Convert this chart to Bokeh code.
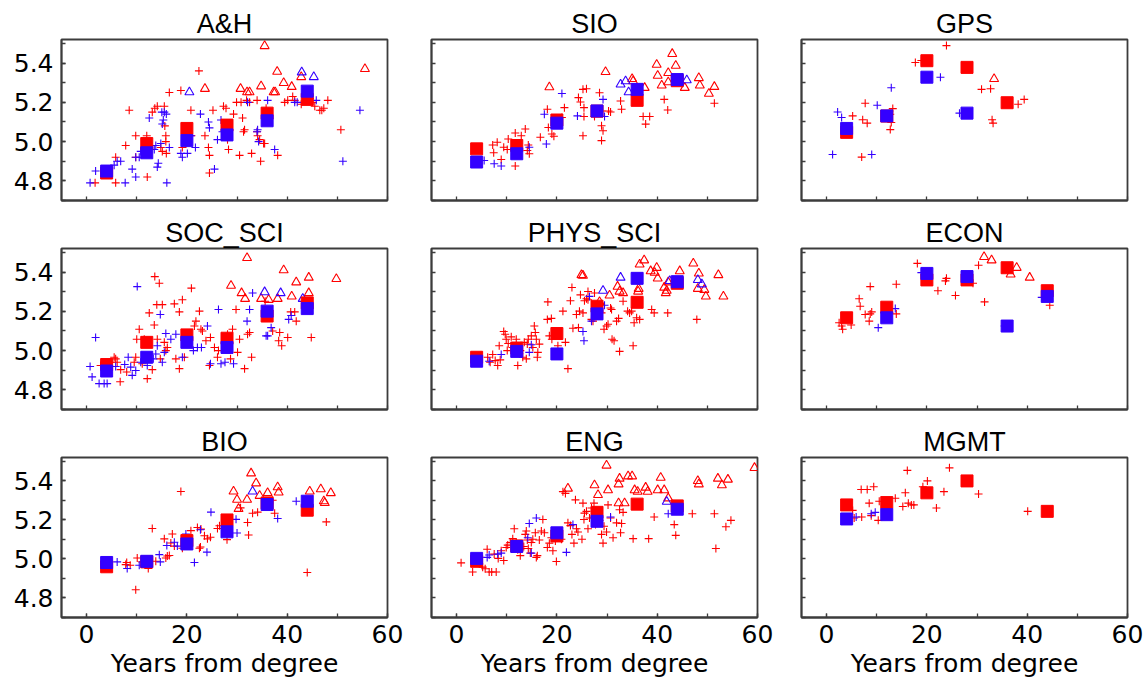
from bokeh.plotting import figure
from bokeh.layouts import gridplot
from bokeh.models import Range1d, FixedTicker, NumeralTickFormatter
from bokeh.embed import file_html
from bokeh.resources import INLINE

RED = "#ff0000"
BLUE = "#3300ff"
TITLE_FONT = "Liberation Sans"
FONT = "DejaVu Sans"

x_ticks = [0, 20, 40, 60]
x_minor = [0, 10, 20, 30, 40, 50, 60]
y_ticks = [4.8, 5.0, 5.2, 5.4]
y_minor = [4.7, 4.8, 4.9, 5.0, 5.1, 5.2, 5.3, 5.4, 5.5]
bin_x = [4, 12, 20, 28, 36, 44]

# ---------------- A&H ----------------
ah_red_plus_x = [1.7, 5.8, 5.8, 7.8, 8.5, 9.8, 9.8, 12.1, 12.0, 13.1, 13.6, 14.1, 14.8, 15.1, 15.5, 15.6, 15.8, 15.8, 15.9, 16.5, 18.8, 19.1, 20.8, 20.9, 22.4, 23.6, 24.3, 24.5, 24.5, 25.2, 27.3, 27.8, 28.1, 28.3, 29.3, 29.9, 30.5, 30.8, 31.1, 31.3, 31.5, 31.9, 32.5, 32.9, 34.0, 34.0, 34.1, 34.5, 34.7, 35.3, 35.5, 35.8, 38.1, 39.5, 40.1, 41.1, 41.5, 42.8, 44.5, 45.1, 45.5, 46.5, 46.9, 47.3, 48.1, 50.7, 19.8]
ah_red_plus_y = [4.79, 4.79, 4.92, 4.98, 5.16, 5.03, 4.92, 4.82, 5.03, 5.15, 5.17, 5.18, 4.97, 4.95, 5.18, 5.08, 5.03, 5.00, 4.94, 5.25, 5.26, 4.97, 5.16, 5.03, 5.36, 5.03, 4.97, 4.93, 4.84, 5.16, 5.18, 5.17, 5.01, 4.96, 5.14, 5.20, 4.93, 5.20, 5.12, 5.05, 5.06, 5.21, 5.20, 4.94, 5.21, 5.05, 5.03, 5.01, 4.90, 4.99, 4.99, 5.17, 4.93, 5.20, 5.21, 5.23, 5.21, 5.19, 5.22, 5.20, 5.18, 5.16, 5.16, 5.17, 5.21, 5.06, 4.99]
ah_blue_plus_x = [0.7, 1.8, 5.5, 6.1, 6.8, 7.7, 9.1, 9.8, 9.8, 10.5, 10.8, 12.5, 13.5, 13.8, 14.1, 14.3, 14.8, 15.0, 15.1, 15.3, 15.5, 15.9, 16.0, 16.5, 18.8, 19.1, 20.1, 20.8, 21.7, 22.7, 24.3, 24.5, 25.5, 26.1, 26.8, 27.1, 32.1, 34.0, 34.3, 34.1, 36.1, 37.5, 41.5, 42.0, 45.8, 51.1, 54.5]
ah_blue_plus_y = [4.79, 4.85, 4.88, 4.90, 4.90, 4.79, 4.86, 4.92, 4.82, 4.92, 4.95, 5.12, 4.96, 4.98, 4.87, 4.89, 4.99, 5.15, 5.09, 5.11, 5.15, 5.14, 4.79, 4.97, 4.94, 4.92, 4.94, 5.03, 4.97, 5.14, 5.10, 5.07, 4.86, 5.01, 5.11, 5.05, 5.20, 5.05, 5.00, 5.06, 5.21, 4.96, 5.20, 5.20, 5.21, 4.90, 5.16]
ah_red_tri_x = [35.5, 38.0, 23.6, 30.7, 32.0, 32.5, 34.8, 37.3, 37.6, 39.3, 40.9, 42.8, 55.5]
ah_red_tri_y = [5.487, 5.356, 5.269, 5.269, 5.252, 5.252, 5.282, 5.252, 5.252, 5.299, 5.279, 5.329, 5.370]
ah_blue_tri_x = [20.5, 42.9, 45.3]
ah_blue_tri_y = [5.252, 5.353, 5.329]
ah_red_mean = [4.84, 4.99, 5.067, 5.084, 5.145, 5.215]
ah_blue_mean = [4.85, 4.943, 5.005, 5.034, 5.106, 5.257]

# ---------------- SIO ----------------
sio_red_plus_x = [7.2, 7.4, 8.1, 8.9, 9.4, 10.1, 10.3, 11.7, 11.7, 12.9, 13.7, 14.3, 14.5, 14.1, 16.7, 18.1, 18.3, 19.0, 19.4, 21.5, 21.0, 24.3, 24.7, 25.2, 25.4, 25.4, 25.2, 25.9, 28.5, 27.5, 28.9, 28.9, 29.2, 28.9, 30.3, 30.7, 32.7, 32.9, 37.2, 38.5, 37.7, 41.4, 42.1, 51.4]
sio_red_plus_y = [4.983, 4.943, 4.997, 4.909, 4.971, 4.960, 5.013, 5.044, 4.876, 5.030, 5.064, 4.983, 4.938, 4.955, 5.022, 5.165, 5.072, 5.039, 5.027, 5.173, 5.123, 5.224, 5.202, 5.266, 5.173, 5.128, 5.030, 5.269, 5.249, 5.128, 5.156, 5.081, 5.055, 5.005, 5.156, 5.151, 5.207, 5.165, 5.128, 5.128, 5.089, 5.215, 5.161, 5.195]
sio_blue_plus_x = [5.5, 7.5, 8.9, 17.5, 17.9, 21.0, 24.1, 29.2, 29.5, 14.5]
sio_blue_plus_y = [4.904, 4.887, 4.876, 5.139, 4.988, 5.245, 5.131, 5.215, 5.128, 4.971]
sio_red_tri_x = [18.5, 29.7, 35.0, 35.2, 37.5, 39.9, 40.1, 40.9, 42.2, 43.0, 43.7, 42.2, 45.5, 48.3, 48.5, 50.3, 51.4]
sio_red_tri_y = [5.277, 5.355, 5.319, 5.308, 5.274, 5.392, 5.336, 5.286, 5.350, 5.447, 5.387, 5.303, 5.274, 5.324, 5.286, 5.244, 5.279]
sio_blue_tri_x = [32.7, 33.7, 34.3, 45.9]
sio_blue_tri_y = [5.291, 5.308, 5.252, 5.313]
sio_red_mean = [4.963, 4.98, 5.11, 5.155, 5.21, 5.31]
sio_blue_mean = [4.896, 4.938, 5.094, 5.156, 5.266, 5.316]

# ---------------- GPS ----------------
gps_red_plus_x = [5.2, 7.2, 7.7, 8.1, 7.0, 12.7, 12.9, 12.7, 13.2, 17.7, 18.9, 23.9, 30.9, 32.7, 33.0, 33.2, 38.2, 39.4]
gps_red_plus_y = [5.131, 5.111, 5.195, 5.094, 4.921, 5.139, 5.097, 5.061, 5.168, 5.403, 5.413, 5.489, 5.266, 5.269, 5.111, 5.094, 5.190, 5.215]
gps_blue_plus_x = [1.2, 2.2, 3.0, 9.0, 10.1, 12.9, 22.7, 26.5]
gps_blue_plus_y = [4.934, 5.151, 5.123, 4.934, 5.185, 5.274, 5.328, 5.145]
gps_red_tri_x = [33.4]
gps_red_tri_y = [5.319]
gps_blue_tri_x = []
gps_blue_tri_y = []
gps_red_mean_x = [4, 12, 20, 28, 36]
gps_red_mean = [5.047, 5.13, 5.412, 5.378, 5.198]
gps_blue_mean_x = [4, 12, 20, 28]
gps_blue_mean = [5.067, 5.131, 5.328, 5.145]

# ---------------- SOC_SCI ----------------
soc_red_plus_x = [2.8, 4.8, 5.5, 5.8, 6.1, 6.7, 6.8, 8.0, 9.5, 9.8, 10.0, 10.5, 11.1, 11.5, 12.1, 12.5, 13.1, 13.5, 13.6, 14.5, 14.0, 14.1, 14.7, 15.1, 15.5, 15.8, 16.1, 17.5, 17.8, 18.5, 19.1, 18.5, 19.5, 20.1, 20.9, 21.5, 21.8, 22.5, 22.8, 23.1, 23.8, 24.5, 24.7, 25.5, 26.1, 26.3, 28.1, 28.7, 29.1, 29.8, 30.1, 30.5, 31.5, 32.1, 32.5, 32.9, 35.6, 37.1, 38.3, 38.5, 38.9, 40.1, 40.7, 41.5, 41.8, 44.8]
soc_red_plus_y = [4.924, 4.941, 4.966, 4.958, 4.941, 4.841, 4.903, 4.891, 4.941, 4.966, 5.058, 5.109, 4.933, 5.058, 4.857, 5.192, 4.903, 5.130, 5.377, 5.343, 5.234, 5.058, 4.958, 5.234, 5.042, 5.000, 5.016, 5.238, 4.958, 5.197, 5.259, 4.908, 4.966, 5.042, 5.318, 5.125, 5.150, 5.201, 5.109, 5.100, 5.050, 4.924, 5.067, 5.016, 4.966, 5.000, 5.083, 4.958, 5.109, 5.209, 4.991, 5.058, 4.908, 5.083, 5.092, 4.966, 5.251, 5.100, 5.050, 5.092, 5.025, 5.067, 5.197, 5.197, 5.150, 5.067]
soc_blue_plus_x = [0.7, 1.1, 1.8, 2.5, 3.5, 4.1, 5.8, 7.6, 8.3, 8.8, 9.1, 9.8, 10.1, 10.8, 12.1, 13.3, 13.8, 14.1, 14.7, 15.1, 15.5, 15.8, 16.8, 17.8, 19.1, 20.1, 21.3, 22.1, 22.9, 24.1, 24.7, 26.3, 26.8, 27.6, 29.3, 32.0, 32.5, 33.1, 35.8, 36.1, 36.8, 40.3, 40.8]
soc_blue_plus_y = [4.919, 4.866, 5.067, 4.832, 4.832, 4.832, 4.919, 4.929, 4.966, 4.916, 4.874, 4.899, 5.326, 4.941, 4.924, 4.958, 4.983, 5.025, 5.184, 4.941, 4.991, 5.087, 5.058, 5.083, 4.966, 5.067, 5.000, 5.016, 5.016, 5.125, 4.933, 5.209, 4.933, 4.941, 4.933, 5.150, 5.209, 5.293, 5.075, 5.075, 5.117, 5.159, 5.179]
soc_red_tri_x = [32.0, 28.8, 30.9, 31.6, 34.8, 36.3, 38.1, 39.3, 40.9, 41.8, 44.3, 44.3, 49.8]
soc_red_tri_y = [5.472, 5.331, 5.293, 5.264, 5.264, 5.259, 5.264, 5.410, 5.276, 5.348, 5.372, 5.293, 5.365]
soc_blue_tri_x = [35.5, 38.7, 43.1]
soc_blue_tri_y = [5.298, 5.293, 5.264]
soc_red_mean = [4.929, 5.042, 5.080, 5.063, 5.176, 5.243]
soc_blue_mean = [4.896, 4.966, 5.042, 5.016, 5.201, 5.214]

# ---------------- PHYS_SCI ----------------
phys_red_plus_x = [6.2, 6.7, 7.2, 7.7, 8.2, 8.5, 8.7, 9.4, 9.7, 9.9, 10.1, 10.3, 10.9, 11.2, 11.5, 11.9, 12.2, 12.7, 13.2, 13.5, 13.9, 14.1, 14.3, 14.9, 15.2, 15.5, 15.7, 15.9, 16.1, 16.2, 16.5, 18.2, 18.1, 18.5, 18.9, 19.0, 20.2, 21.2, 21.7, 22.2, 22.7, 23.0, 23.2, 23.9, 24.3, 24.5, 24.7, 25.2, 25.5, 25.9, 26.2, 26.9, 27.2, 27.5, 27.9, 29.4, 29.9, 30.7, 30.9, 31.0, 31.4, 31.9, 32.3, 32.5, 33.2, 34.1, 34.5, 34.9, 35.2, 35.4, 35.9, 36.5, 38.9, 39.4, 42.1, 47.9, 26.2, 28.9, 30.2]
phys_red_plus_y = [4.966, 4.941, 4.980, 4.949, 4.924, 5.025, 4.953, 5.097, 5.083, 5.058, 5.000, 5.036, 5.070, 5.016, 5.008, 5.058, 4.924, 5.000, 4.966, 5.042, 4.958, 5.033, 5.058, 5.075, 5.016, 5.125, 5.092, 5.058, 4.966, 4.991, 5.033, 5.248, 5.159, 5.075, 5.164, 5.058, 5.025, 5.201, 5.042, 4.908, 5.254, 5.321, 5.114, 5.184, 5.117, 5.201, 5.284, 5.192, 5.254, 5.264, 5.259, 5.159, 5.150, 5.293, 5.217, 5.109, 5.125, 5.217, 5.209, 5.058, 5.050, 5.150, 5.164, 4.996, 5.251, 5.201, 5.192, 5.201, 5.025, 5.142, 5.167, 5.159, 5.209, 5.192, 5.192, 5.159, 5.301, 5.192, 5.134]
phys_blue_plus_x = [6.5, 8.9, 14.9, 14.5, 25.2, 25.4, 26.5, 26.9, 29.5]
phys_blue_plus_y = [4.946, 4.980, 5.030, 4.991, 5.097, 5.050, 5.276, 5.150, 5.231]
phys_red_tri_x = [24.9, 25.2, 28.5, 30.5, 32.1, 32.5, 33.2, 36.2, 36.3, 36.5, 37.4, 38.7, 39.5, 39.9, 40.1, 41.4, 41.7, 42.2, 44.5, 47.2, 48.3, 48.1, 49.4, 49.7, 52.2, 53.2, 41.9]
phys_red_tri_y = [5.385, 5.382, 5.248, 5.281, 5.326, 5.301, 5.293, 5.301, 5.315, 5.439, 5.460, 5.405, 5.397, 5.422, 5.368, 5.321, 5.293, 5.348, 5.405, 5.444, 5.393, 5.315, 5.310, 5.276, 5.385, 5.276, 5.305]
phys_blue_tri_x = [29.2, 32.7, 42.5, 48.1, 48.9]
phys_blue_tri_y = [5.305, 5.372, 5.355, 5.360, 5.338]
phys_red_mean = [4.966, 5.013, 5.087, 5.226, 5.246, 5.343]
phys_blue_mean = [4.946, 4.996, 4.983, 5.187, 5.368, 5.351]

# ---------------- ECON ----------------
econ_red_plus_x = [2.5, 3.0, 3.2, 4.9, 6.5, 6.7, 7.7, 8.5, 8.7, 9.0, 8.7, 13.9, 13.9, 18.1, 22.2, 23.7, 23.9, 25.7, 29.2, 30.3, 31.5, 44.5]
econ_red_plus_y = [5.142, 5.125, 5.109, 5.130, 5.264, 5.226, 5.184, 5.150, 5.326, 5.197, 5.187, 5.187, 5.338, 5.444, 5.305, 5.355, 5.368, 5.281, 5.343, 5.435, 5.248, 5.231]
econ_blue_plus_x = [10.3, 13.7, 18.9, 42.9, 35.5]
econ_blue_plus_y = [5.117, 5.214, 5.397, 5.271, 5.125]
econ_red_tri_x = [31.4, 32.9, 36.7, 37.9, 40.5]
econ_red_tri_y = [5.477, 5.460, 5.388, 5.422, 5.372]
econ_blue_tri_x = []
econ_blue_tri_y = []
econ_red_mean = [5.167, 5.221, 5.360, 5.360, 5.422, 5.305]
econ_blue_mean_x = [12, 20, 28, 36, 44]
econ_blue_mean = [5.167, 5.393, 5.377, 5.125, 5.276]

# ---------------- BIO ----------------
bio_red_plus_x = [7.8, 8.0, 8.7, 9.8, 10.1, 11.1, 12.3, 13.1, 13.8, 15.5, 15.8, 16.1, 16.5, 16.8, 17.1, 17.5, 18.8, 19.1, 20.8, 22.1, 22.5, 22.7, 22.8, 23.5, 24.1, 24.7, 26.1, 26.5, 28.0, 30.7, 32.3, 33.1, 34.1, 36.1, 37.1, 37.5, 44.0, 47.8, 32.1]
bio_red_plus_y = [4.971, 4.982, 4.968, 4.842, 5.005, 4.985, 4.951, 5.156, 4.988, 5.103, 5.005, 5.015, 5.018, 5.082, 5.128, 5.066, 5.346, 5.055, 5.145, 5.161, 5.055, 5.061, 5.153, 5.119, 5.103, 5.111, 5.156, 5.170, 5.099, 5.262, 5.123, 5.234, 5.240, 5.291, 5.301, 5.234, 4.931, 5.190, 5.187]
bio_blue_plus_x = [6.1, 8.1, 10.5, 14.5, 14.7, 16.0, 17.5, 18.1, 19.8, 21.5, 22.7, 24.0, 24.8, 29.8, 30.0, 38.1, 41.8]
bio_blue_plus_y = [4.985, 4.951, 4.968, 5.022, 4.985, 5.069, 5.086, 5.066, 5.128, 4.982, 5.150, 5.035, 5.240, 5.203, 5.133, 5.207, 5.296]
bio_red_tri_x = [29.3, 30.0, 30.3, 32.0, 32.8, 33.8, 34.5, 36.1, 38.1, 38.3, 44.5, 46.7, 47.3, 47.5, 48.7]
bio_red_tri_y = [5.346, 5.304, 5.257, 5.304, 5.439, 5.388, 5.324, 5.338, 5.368, 5.341, 5.346, 5.358, 5.296, 5.287, 5.338]
bio_blue_tri_x = [33.1]
bio_blue_tri_y = [5.346]
bio_red_mean = [4.960, 4.985, 5.094, 5.200, 5.287, 5.250]
bio_blue_mean = [4.982, 4.988, 5.077, 5.139, 5.279, 5.296]

# ---------------- ENG ----------------
eng_red_plus_x = [0.9, 3.2, 4.5, 5.2, 5.7, 6.1, 6.5, 7.0, 7.9, 7.5, 8.3, 8.9, 9.4, 9.9, 10.2, 10.7, 11.2, 11.5, 11.9, 12.2, 12.7, 12.9, 13.4, 13.7, 13.9, 14.1, 14.3, 14.7, 14.9, 15.2, 15.7, 15.9, 16.1, 16.5, 16.9, 17.2, 17.5, 18.1, 18.5, 18.9, 19.2, 19.7, 19.9, 20.2, 20.9, 21.2, 21.7, 22.2, 22.7, 23.0, 23.4, 23.7, 23.9, 24.2, 25.0, 25.2, 25.4, 25.5, 25.9, 26.2, 26.5, 26.9, 27.4, 27.7, 27.9, 28.5, 29.2, 29.4, 29.9, 30.2, 30.7, 31.2, 31.9, 32.5, 32.7, 32.9, 33.2, 35.2, 38.3, 39.4, 43.4, 43.7, 47.0, 51.4, 51.7, 53.7, 54.7, 28.9]
eng_red_plus_y = [4.980, 4.933, 5.008, 4.958, 4.950, 5.050, 4.933, 4.933, 4.933, 5.025, 5.003, 5.042, 4.992, 5.059, 5.071, 5.084, 5.104, 5.155, 5.084, 5.047, 5.017, 5.054, 5.064, 5.126, 5.143, 5.097, 5.054, 5.030, 5.084, 5.101, 5.134, 5.008, 5.017, 5.097, 5.143, 5.202, 5.134, 5.059, 5.081, 5.109, 5.042, 5.092, 4.987, 5.109, 5.101, 5.345, 5.336, 5.185, 5.171, 5.126, 5.081, 5.303, 5.155, 5.138, 5.101, 5.286, 5.202, 5.235, 5.244, 5.155, 5.210, 5.261, 5.286, 5.176, 5.218, 5.198, 5.081, 5.168, 5.138, 5.277, 5.210, 5.109, 5.185, 5.252, 5.134, 5.182, 5.239, 5.104, 5.104, 5.215, 5.176, 5.121, 5.232, 5.232, 5.054, 5.165, 5.198, 5.126]
eng_blue_plus_x = [6.1, 6.5, 8.2, 8.9, 14.2, 14.5, 14.9, 15.9, 21.9, 23.2, 30.7, 42.2]
eng_blue_plus_y = [5.008, 5.020, 5.025, 5.030, 5.109, 5.182, 5.030, 5.210, 5.034, 5.176, 5.215, 5.232]
eng_red_tri_x = [22.2, 27.5, 28.2, 29.9, 30.2, 32.3, 32.5, 32.3, 33.5, 34.2, 35.0, 35.5, 36.1, 37.7, 38.1, 40.1, 40.7, 41.4, 42.2, 48.1, 48.3, 52.1, 52.9, 54.1, 59.4]
eng_red_tri_y = [5.361, 5.378, 5.328, 5.479, 5.353, 5.383, 5.412, 5.286, 5.286, 5.424, 5.424, 5.353, 5.345, 5.366, 5.345, 5.353, 5.417, 5.353, 5.311, 5.400, 5.383, 5.412, 5.378, 5.407, 5.467]
eng_blue_tri_x = [41.9]
eng_blue_tri_y = [5.294]
eng_red_mean = [4.988, 5.067, 5.118, 5.239, 5.281, 5.272]
eng_blue_mean_x = [4, 12, 20, 28, 44]
eng_blue_mean = [5.003, 5.064, 5.134, 5.193, 5.255]

# ---------------- MGMT ----------------
mgmt_red_plus_x = [5.2, 5.5, 6.9, 7.0, 8.1, 8.5, 8.9, 9.4, 10.3, 10.5, 13.7, 15.2, 15.7, 16.1, 16.3, 16.9, 17.4, 19.2, 20.1, 21.9, 23.4, 24.5, 30.3, 40.1]
mgmt_red_plus_y = [5.249, 5.210, 5.356, 5.215, 5.356, 5.286, 5.222, 5.370, 5.198, 5.296, 5.311, 5.269, 5.339, 5.454, 5.286, 5.277, 5.277, 5.370, 5.400, 5.261, 5.345, 5.467, 5.333, 5.244]
mgmt_blue_plus_x = [5.9, 8.9, 9.7]
mgmt_blue_plus_y = [5.215, 5.232, 5.239]
mgmt_red_tri_x = []
mgmt_red_tri_y = []
mgmt_blue_tri_x = []
mgmt_blue_tri_y = []
mgmt_red_mean_x = [4, 12, 20, 28, 44]
mgmt_red_mean = [5.277, 5.289, 5.339, 5.400, 5.244]
mgmt_blue_mean_x = [4, 12]
mgmt_blue_mean = [5.205, 5.227]

panels = [
    ("A&H", ah_red_plus_x, ah_red_plus_y, ah_blue_plus_x, ah_blue_plus_y, ah_red_tri_x, ah_red_tri_y,
     ah_blue_tri_x, ah_blue_tri_y, bin_x, ah_red_mean, bin_x, ah_blue_mean),
    ("SIO", sio_red_plus_x, sio_red_plus_y, sio_blue_plus_x, sio_blue_plus_y, sio_red_tri_x, sio_red_tri_y,
     sio_blue_tri_x, sio_blue_tri_y, bin_x, sio_red_mean, bin_x, sio_blue_mean),
    ("GPS", gps_red_plus_x, gps_red_plus_y, gps_blue_plus_x, gps_blue_plus_y, gps_red_tri_x, gps_red_tri_y,
     gps_blue_tri_x, gps_blue_tri_y, gps_red_mean_x, gps_red_mean, gps_blue_mean_x, gps_blue_mean),
    ("SOC_SCI", soc_red_plus_x, soc_red_plus_y, soc_blue_plus_x, soc_blue_plus_y, soc_red_tri_x, soc_red_tri_y,
     soc_blue_tri_x, soc_blue_tri_y, bin_x, soc_red_mean, bin_x, soc_blue_mean),
    ("PHYS_SCI", phys_red_plus_x, phys_red_plus_y, phys_blue_plus_x, phys_blue_plus_y, phys_red_tri_x, phys_red_tri_y,
     phys_blue_tri_x, phys_blue_tri_y, bin_x, phys_red_mean, bin_x, phys_blue_mean),
    ("ECON", econ_red_plus_x, econ_red_plus_y, econ_blue_plus_x, econ_blue_plus_y, econ_red_tri_x, econ_red_tri_y,
     econ_blue_tri_x, econ_blue_tri_y, bin_x, econ_red_mean, econ_blue_mean_x, econ_blue_mean),
    ("BIO", bio_red_plus_x, bio_red_plus_y, bio_blue_plus_x, bio_blue_plus_y, bio_red_tri_x, bio_red_tri_y,
     bio_blue_tri_x, bio_blue_tri_y, bin_x, bio_red_mean, bin_x, bio_blue_mean),
    ("ENG", eng_red_plus_x, eng_red_plus_y, eng_blue_plus_x, eng_blue_plus_y, eng_red_tri_x, eng_red_tri_y,
     eng_blue_tri_x, eng_blue_tri_y, bin_x, eng_red_mean, eng_blue_mean_x, eng_blue_mean),
    ("MGMT", mgmt_red_plus_x, mgmt_red_plus_y, mgmt_blue_plus_x, mgmt_blue_plus_y, mgmt_red_tri_x, mgmt_red_tri_y,
     mgmt_blue_tri_x, mgmt_blue_tri_y, mgmt_red_mean_x, mgmt_red_mean, mgmt_blue_mean_x, mgmt_blue_mean),
]

LEFT = [61, 22, 22]
RIGHT = [22, 22, 17]
TOP = [39, 40, 40]
BOTTOM = [8, 8, 61]
FH = [161, 161, 160]
FW = 326

figs = []
for i, pan in enumerate(panels):
    (name, rpx, rpy, bpx, bpy, rtx, rty, btx, bty, rmx, rmy, bmx, bmy) = pan
    r, c = divmod(i, 3)
    p = figure(frame_width=FW, frame_height=FH[r], x_range=Range1d(-5, 60), y_range=Range1d(4.7, 5.52),
               output_backend="svg", toolbar_location=None, title=name,
               min_border_left=LEFT[c], min_border_right=RIGHT[c],
               min_border_top=TOP[r], min_border_bottom=BOTTOM[r])
    p.title.align = "center"
    p.title.text_font = TITLE_FONT
    p.title.text_font_size = "27px"
    p.title.text_font_style = "normal"
    p.title.text_color = "black"
    p.title.standoff = 2
    p.grid.visible = False
    p.outline_line_color = "#3c3c3c"
    p.outline_line_width = 1.8
    p.background_fill_color = "white"
    p.border_fill_color = "white"

    for ax in (p.xaxis[0], p.yaxis[0]):
        ax.axis_line_color = "#3c3c3c"
        ax.axis_line_width = 1.8
        ax.major_tick_in = 4
        ax.major_tick_out = 0
        ax.minor_tick_in = 4
        ax.minor_tick_out = 0
        ax.major_tick_line_color = "#3c3c3c"
        ax.minor_tick_line_color = "#3c3c3c"
        ax.major_tick_line_width = 1.3
        ax.minor_tick_line_width = 1.3
        ax.major_label_text_font = FONT
        ax.major_label_text_font_size = "25px"
        ax.major_label_text_color = "black"

    # bottom row shows x labels, left column shows y labels; other axes carry only ticks
    if r == 2:
        p.xaxis.ticker = FixedTicker(ticks=x_ticks, minor_ticks=x_minor)
        p.xaxis.major_label_standoff = 7
        p.xaxis.axis_label = "Years from degree"
        p.xaxis.axis_label_text_font = FONT
        p.xaxis.axis_label_text_font_size = "25px"
        p.xaxis.axis_label_text_font_style = "normal"
        p.xaxis.axis_label_text_color = "black"
        p.xaxis.axis_label_standoff = 3
    else:
        p.xaxis.ticker = FixedTicker(ticks=[], minor_ticks=x_minor)
        p.xaxis.major_label_standoff = 0
    if c == 0:
        p.yaxis.ticker = FixedTicker(ticks=y_ticks, minor_ticks=y_minor)
        p.yaxis.formatter = NumeralTickFormatter(format="0.0")
        p.yaxis.major_label_standoff = 8
    else:
        p.yaxis.ticker = FixedTicker(ticks=[], minor_ticks=y_minor)
        p.yaxis.major_label_standoff = 0

    p.scatter(rpx, rpy, marker="cross", size=8, line_color=RED, line_width=1.1)
    p.scatter(bpx, bpy, marker="cross", size=8, line_color=BLUE, line_width=1.1)
    if rtx:
        p.scatter(rtx, rty, marker="triangle", size=9, line_color=RED, fill_color=None, line_width=1.1)
    if btx:
        p.scatter(btx, bty, marker="triangle", size=9, line_color=BLUE, fill_color=None, line_width=1.1)
    p.scatter(rmx, rmy, marker="square", size=12, line_color=RED, fill_color=RED)
    p.scatter(bmx, bmy, marker="square", size=12, line_color=BLUE, fill_color=BLUE)
    figs.append(p)

grid = gridplot([figs[0:3], figs[3:6], figs[6:9]], toolbar_location=None)
open("out.html", "w").write(file_html(grid, INLINE))
